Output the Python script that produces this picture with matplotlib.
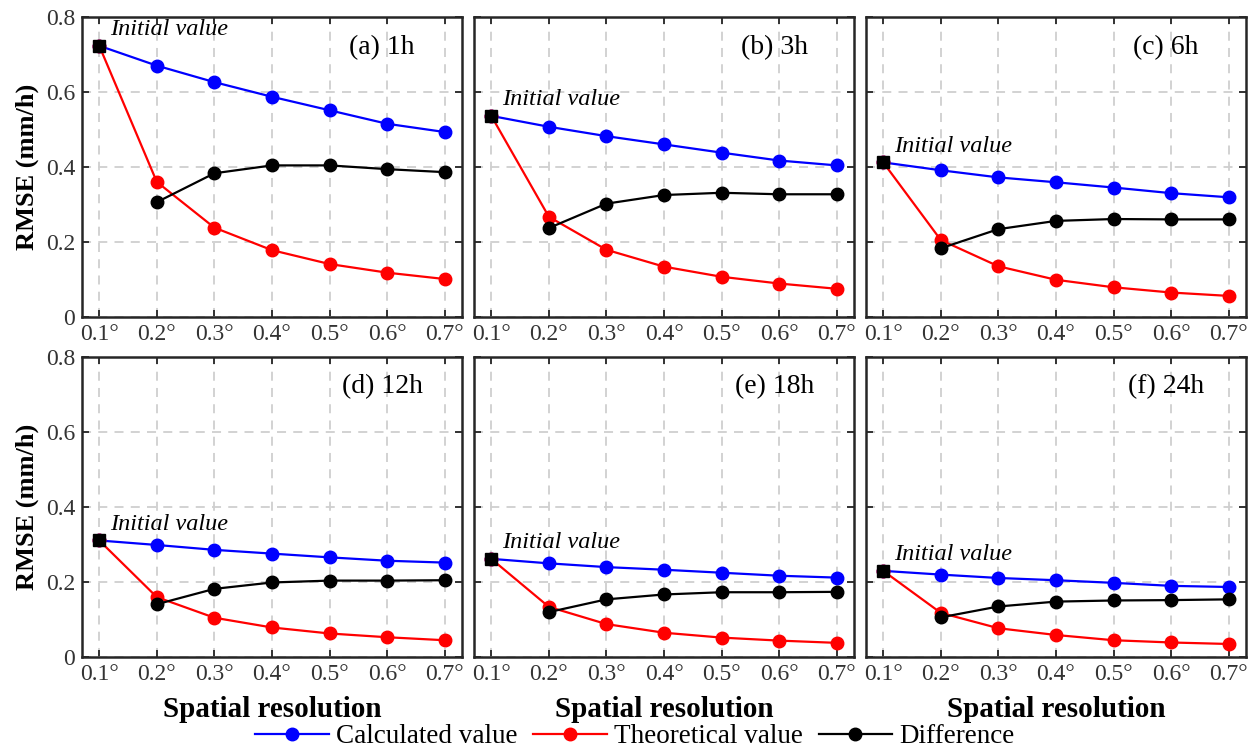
import numpy as np
import matplotlib
matplotlib.use("Agg")
import matplotlib.pyplot as plt

plt.rcParams["font.family"] = ["Liberation Serif", "DejaVu Serif"]

# spatial resolution (degrees)
res = [0.1, 0.2, 0.3, 0.4, 0.5, 0.6, 0.7]
res_labels = ["0.1°", "0.2°", "0.3°", "0.4°", "0.5°", "0.6°", "0.7°"]

panels = ["(a) 1h", "(b) 3h", "(c) 6h", "(d) 12h", "(e) 18h", "(f) 24h"]

calc_1h = [0.724, 0.671, 0.627, 0.588, 0.552, 0.516, 0.494]
calc_3h = [0.537, 0.508, 0.483, 0.461, 0.439, 0.418, 0.405]
calc_6h = [0.413, 0.392, 0.373, 0.360, 0.346, 0.331, 0.320]
calc_12h = [0.310, 0.298, 0.285, 0.275, 0.265, 0.256, 0.251]
calc_18h = [0.261, 0.249, 0.239, 0.232, 0.224, 0.216, 0.211]
calc_24h = [0.229, 0.219, 0.210, 0.204, 0.197, 0.189, 0.186]

theo_1h = [0.724, 0.361, 0.239, 0.179, 0.142, 0.119, 0.102]
theo_3h = [0.537, 0.268, 0.180, 0.135, 0.108, 0.090, 0.076]
theo_6h = [0.413, 0.206, 0.136, 0.100, 0.080, 0.066, 0.057]
theo_12h = [0.310, 0.159, 0.104, 0.078, 0.062, 0.052, 0.044]
theo_18h = [0.261, 0.133, 0.087, 0.064, 0.051, 0.043, 0.037]
theo_24h = [0.229, 0.117, 0.076, 0.058, 0.044, 0.038, 0.034]

# difference starts at 0.2 deg
diff_1h = [0.307, 0.384, 0.405, 0.405, 0.395, 0.387]
diff_3h = [0.238, 0.303, 0.326, 0.332, 0.328, 0.328]
diff_6h = [0.184, 0.235, 0.257, 0.262, 0.261, 0.261]
diff_12h = [0.140, 0.181, 0.198, 0.203, 0.203, 0.204]
diff_18h = [0.119, 0.153, 0.166, 0.172, 0.172, 0.173]
diff_24h = [0.105, 0.134, 0.147, 0.150, 0.151, 0.153]

calc = [calc_1h, calc_3h, calc_6h, calc_12h, calc_18h, calc_24h]
theo = [theo_1h, theo_3h, theo_6h, theo_12h, theo_18h, theo_24h]
diff = [diff_1h, diff_3h, diff_6h, diff_12h, diff_18h, diff_24h]

fig = plt.figure(figsize=(12.57, 7.54), dpi=100)

lefts = [0.0652, 0.3771, 0.6889]
bottoms = [0.5792, 0.1290]
w, h = 0.3023, 0.3979

ms = 9
lw = 1.6
for i in range(6):
    r, c = divmod(i, 3)
    ax = fig.add_axes([lefts[c], bottoms[r], w, h])
    ax.grid(True, linestyle=(0, (5, 4)), color="#cfcfcf", linewidth=1.3)
    ax.set_axisbelow(True)
    l1, = ax.plot(res, calc[i], color="#0000ff", marker="o", ms=ms, lw=lw,
                  label="Calculated value")
    l2, = ax.plot(res, theo[i], color="#ff0000", marker="o", ms=ms, lw=lw,
                  label="Theoretical value")
    l3, = ax.plot(res[1:], diff[i], color="black", marker="o", ms=ms, lw=lw,
                  label="Difference")
    ax.plot(res[0], calc[i][0], marker="s", color="black", ms=ms, zorder=5)
    ax.annotate("Initial value", (res[0], calc[i][0]), xytext=(8, 4),
                textcoords="offset points", ha="left", va="bottom",
                fontsize=17.5, style="italic")
    ax.text(0.79, 0.9, panels[i], transform=ax.transAxes, ha="center",
            va="center", fontsize=20)

    ax.set_xlim(0.07, 0.73)
    ax.set_ylim(0, 0.8)
    ax.set_xticks(res)
    ax.set_xticklabels(res_labels)
    ax.set_yticks([0, 0.2, 0.4, 0.6, 0.8])
    ax.tick_params(direction="in", top=True, right=True, length=5,
                   width=1.3, labelsize=17, pad=5, colors="#262626",
                   labelcolor="#333333")
    for s in ax.spines.values():
        s.set_linewidth(1.8)
        s.set_color("#262626")
    if c == 0:
        ax.set_yticklabels(["0", "0.2", "0.4", "0.6", "0.8"])
        ax.set_ylabel("RMSE (mm/h)", fontsize=19, fontweight="bold", labelpad=5)
    else:
        ax.set_yticklabels([])
    if r == 1:
        ax.set_xlabel("Spatial resolution", fontsize=21, fontweight="bold",
                      labelpad=8)

fig.legend(handles=[l1, l2, l3], loc="lower center", ncol=3,
           bbox_to_anchor=(0.505, -0.026), frameon=False, fontsize=19.5,
           handlelength=2.7, columnspacing=0.6, handletextpad=0.26)

fig.savefig("out.png", dpi=100)
